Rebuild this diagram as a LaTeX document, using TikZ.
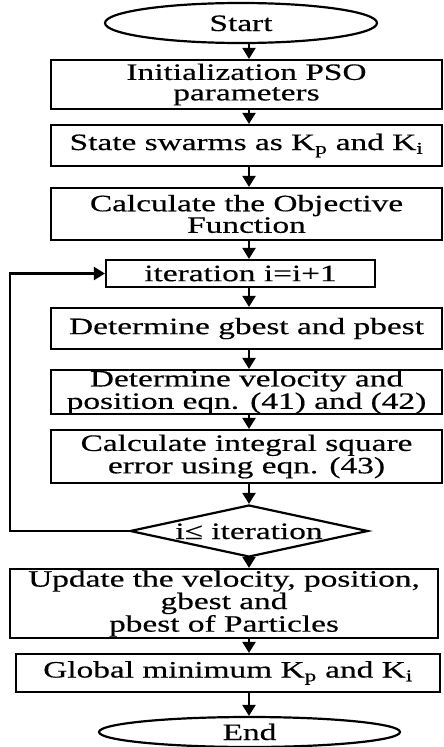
\documentclass[tikz,border=0pt]{standalone}
\usepackage{fontspec}
\setmainfont{Liberation Serif}[FakeStretch=1.42,FakeBold=0.4]
\usetikzlibrary{shapes.geometric,arrows.meta}
\begin{document}
\begin{tikzpicture}[x=1pt,y=-1pt,
  every node/.style={font=\fontsize{23.5}{20.5}\selectfont, inner sep=0pt, line width=2.2pt},
  box/.style={draw, rectangle, align=center},
  term/.style={draw, ellipse, text height=16pt, text depth=0pt},
  dec/.style={draw, diamond, text height=16pt, text depth=0pt},
  arr/.style={line width=2.2pt, -{Triangle[length=11pt,width=13pt]}}]
\useasboundingbox (0,0) rectangle (444,747);
\node[term, minimum width=272pt, minimum height=40pt] (start) at (241,23) {\makebox[0pt]{Start}};
\node[box, minimum width=391pt, minimum height=49pt] (init) at (246.5,84.5) {Initialization PSO\\parameters};
\node[box, minimum width=391pt, minimum height=41pt] (swarm) at (246.5,145.5) {State swarms as K\textsubscript{p} and K\textsubscript{i}};
\node[box, minimum width=391pt, minimum height=52pt] (obj) at (246.5,214) {Calculate the Objective\\Function};
\node[box, minimum width=269pt, minimum height=27pt] (iter) at (240.5,273.5) {iteration i=i+1};
\node[box, minimum width=391pt, minimum height=41pt] (gb) at (246.5,328.5) {Determine gbest and pbest};
\node[box, minimum width=391pt, minimum height=44pt] (vel) at (246.5,392) {Determine velocity and\\position eqn. (41) and (42)};
\node[box, minimum width=391pt, minimum height=53pt] (ise) at (246.5,456.5) {Calculate integral square\\error using eqn. (43)};
\node[dec, minimum width=238pt, minimum height=52pt] (cond) at (249,531) {\makebox[0pt]{i≤ iteration}};
\node[box, minimum width=428pt, minimum height=69pt] (upd) at (224,603.5) {Update the velocity, position,\\gbest and\\pbest of Particles};
\node[box, minimum width=424pt, minimum height=38pt] (glob) at (228,673) {Global minimum K\textsubscript{p} and K\textsubscript{i}};
\node[term, minimum width=301pt, minimum height=30pt] (end) at (249.5,732) {\makebox[0pt]{End}};
\coordinate (ax) at (249,0);
\coordinate (fb) at (10,0);
\draw[arr] (start.south -| ax) -- (init.north -| ax);
\draw[arr] (init.south -| ax) -- (swarm.north -| ax);
\draw[arr] (swarm.south -| ax) -- (obj.north -| ax);
\draw[arr] (obj.south -| ax) -- (iter.north -| ax);
\draw[arr] (iter.south -| ax) -- (gb.north -| ax);
\draw[arr] (gb.south -| ax) -- (vel.north -| ax);
\draw[arr] (vel.south -| ax) -- (ise.north -| ax);
\draw[arr] (ise.south -| ax) -- (cond.north);
\draw[arr] (cond.south) -- (upd.north -| ax);
\draw[arr] (upd.south -| ax) -- (glob.north -| ax);
\draw[arr] (glob.south -| ax) -- (end.north -| ax);
\draw[arr] (cond.west) -- (cond.west -| fb) |- (iter.west);
\end{tikzpicture}
\end{document}
